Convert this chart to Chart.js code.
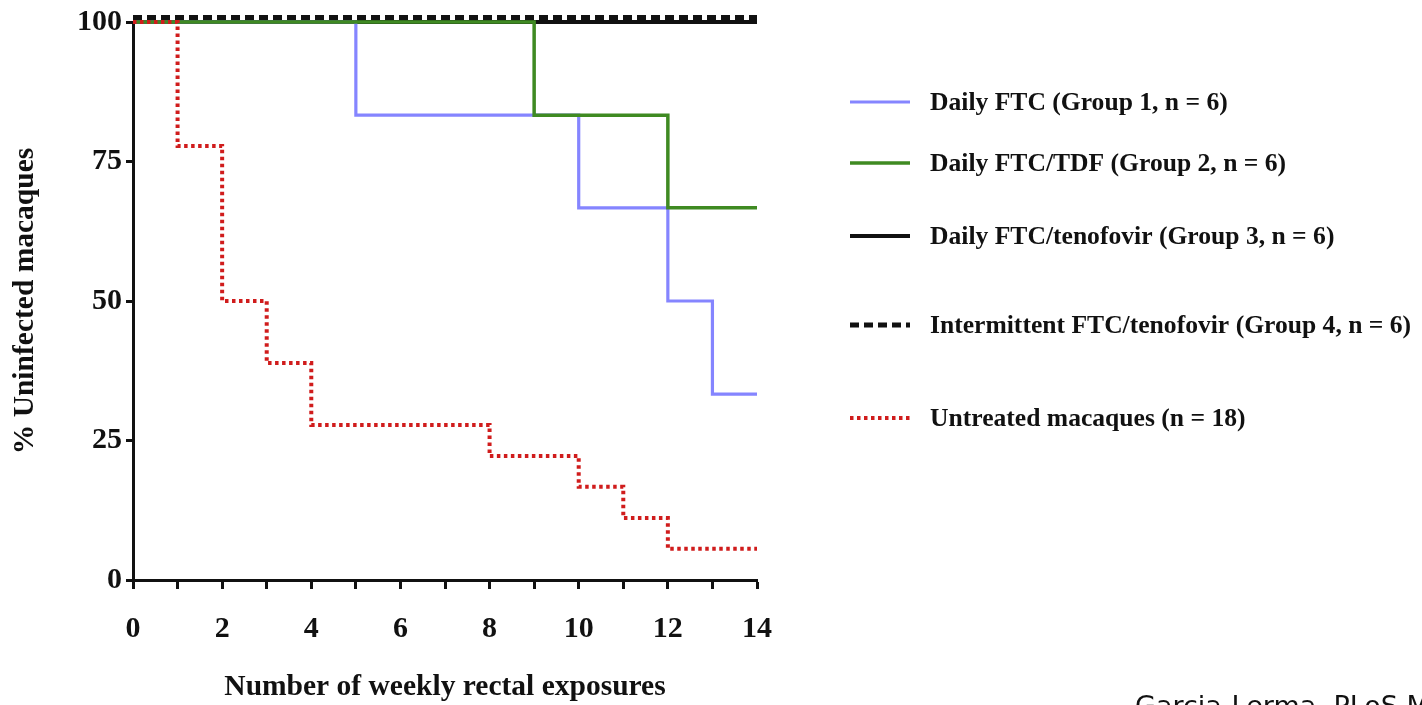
<!DOCTYPE html>
<html><head><meta charset="utf-8">
<script src="https://cdn.jsdelivr.net/npm/chart.js@4"></script>
<style>
html,body{margin:0;padding:0;background:#fff;overflow:hidden;width:1422px;height:705px;}
#wrap{position:absolute;left:0;top:0;width:1422px;height:705px;}
#cap{position:absolute;left:1135px;top:690px;font-family:"DejaVu Sans",sans-serif;font-size:27px;color:#111;white-space:nowrap;}
</style></head>
<body>
<div id="wrap"><canvas id="c" width="1422" height="705"></canvas></div>
<div id="cap">Garcia-Lerma, PLoS Med</div>
<script>
const seriesLabels = [
  "Daily FTC (Group 1, n = 6)",
  "Daily FTC/TDF (Group 2, n = 6)",
  "Daily FTC/tenofovir (Group 3, n = 6)",
  "Intermittent FTC/tenofovir (Group 4, n = 6)",
  "Untreated macaques (n = 18)"
];
const group1X = [0, 5, 10, 12, 13, 14];
const group1Y = [100, 83.3, 66.7, 50, 33.3, 33.3];
const group2X = [0, 9, 12, 14];
const group2Y = [100, 83.3, 66.7, 66.7];
const group3X = [0, 14];
const group3Y = [100, 100];
const group4X = [0, 14];
const group4Y = [100.8, 100.8];
const untreatedX = [0, 1, 2, 3, 4, 8, 10, 11, 12, 14];
const untreatedY = [100, 77.8, 50, 38.9, 27.8, 22.2, 16.7, 11.1, 5.6, 5.6];
const yTicks = [0, 25, 50, 75, 100];
const xTickLabels = [0, 2, 4, 6, 8, 10, 12, 14];

const pts = (xs, ys) => xs.map((x, i) => ({x: x, y: ys[i]}));
const serif = '"Liberation Serif", "Times New Roman", serif';

const styles = [
  {color: '#8585ff', width: 3.2, dash: []},
  {color: '#3f8a22', width: 3.5, dash: []},
  {color: '#111111', width: 4, dash: []},
  {color: '#111111', width: 5, dash: [9, 5]},
  {color: '#d01c1c', width: 4, dash: [3.5, 3.5]}
];
const dataSets = [pts(group1X, group1Y), pts(group2X, group2Y), pts(group3X, group3Y), pts(group4X, group4Y), pts(untreatedX, untreatedY)];

const datasets = dataSets.map((d, i) => ({
  label: seriesLabels[i],
  data: d,
  borderColor: styles[i].color,
  borderWidth: styles[i].width,
  borderDash: styles[i].dash,
  stepped: 'before',
  pointRadius: 0,
  fill: false,
  clip: 10,
  order: [3, 2, 4, 1, 0][i]
}));

const legendRowsY = [102, 163, 236, 325, 418];
const legendPlugin = {
  id: 'sideLegend',
  afterDraw(chart) {
    const ctx = chart.ctx;
    ctx.save();
    chart.data.datasets.forEach((ds, i) => {
      const y = legendRowsY[i];
      ctx.beginPath();
      ctx.strokeStyle = ds.borderColor;
      ctx.lineWidth = ds.borderWidth;
      ctx.setLineDash(ds.borderDash);
      ctx.moveTo(850, y);
      ctx.lineTo(910, y);
      ctx.stroke();
      ctx.setLineDash([]);
      ctx.fillStyle = '#111';
      ctx.font = 'bold 25.6px ' + serif;
      ctx.textBaseline = 'middle';
      ctx.textAlign = 'left';
      ctx.fillText(ds.label, 930, y + 1);
    });
    ctx.restore();
  }
};

new Chart(document.getElementById('c'), {
  type: 'line',
  data: {datasets: datasets},
  plugins: [legendPlugin],
  options: {
    responsive: false,
    animation: false,
    events: [],
    layout: {padding: {left: 0, right: 665, top: 20, bottom: 0}},
    plugins: {legend: {display: false}, tooltip: {enabled: false}},
    scales: {
      x: {
        type: 'linear', min: 0, max: 14,
        afterFit(s) { s.height = 125; },
        border: {color: '#111', width: 3},
        grid: {drawOnChartArea: false, drawTicks: true, tickLength: 9, tickWidth: 3, tickColor: '#111'},
        ticks: {
          stepSize: 1, autoSkip: false, maxRotation: 0, padding: 22,
          color: '#111', font: {family: serif, size: 30, weight: 'bold'},
          callback: v => xTickLabels.includes(v) ? String(v) : ''
        },
        title: {display: true, text: 'Number of weekly rectal exposures', color: '#111',
          font: {family: serif, size: 29.5, weight: 'bold'}, padding: {top: 0, bottom: 0}}
      },
      y: {
        type: 'linear', min: 0, max: 100,
        afterFit(s) { s.width = 133; },
        afterBuildTicks(s) { s.ticks = yTicks.map(v => ({value: v})); },
        border: {color: '#111', width: 3},
        grid: {drawOnChartArea: false, drawTicks: true, tickLength: 7, tickWidth: 3, tickColor: '#111'},
        ticks: {padding: 4, color: '#111', font: {family: serif, size: 30, weight: 'bold'}},
        title: {display: true, text: '% Uninfected macaques', color: '#111',
          font: {family: serif, size: 29.5, weight: 'bold'}, padding: {top: 8, bottom: 0}}
      }
    }
  }
});
</script>
</body></html>
